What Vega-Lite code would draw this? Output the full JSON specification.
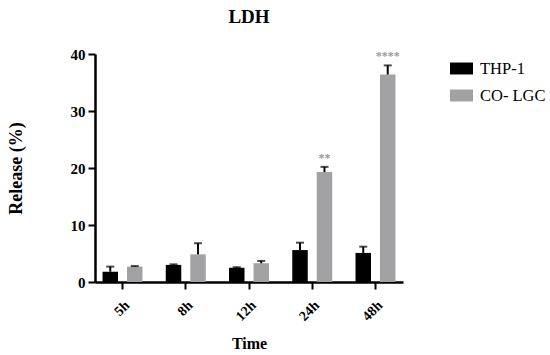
{
  "$schema": "https://vega.github.io/schema/vega-lite/v6.json",
  "autosize": {"type": "none"},
  "width": 308,
  "height": 228,
  "padding": {"left": 95, "top": 54, "right": 147, "bottom": 73},
  "background": "white",
  "title": {"text": "LDH", "font": "Liberation Serif, Times New Roman, serif", "fontSize": 19, "fontWeight": "bold", "color": "black", "offset": 20, "anchor": "middle"},
  "config": {
    "view": {"stroke": null},
    "font": "Liberation Serif, Times New Roman, serif",
    "axis": {"domainColor": "black", "domainWidth": 2.5, "tickColor": "black", "tickWidth": 2, "labelFont": "Liberation Serif, Times New Roman, serif", "labelFontWeight": "bold", "labelFontSize": 14, "labelColor": "black", "titleFont": "Liberation Serif, Times New Roman, serif", "titleFontSize": 16, "titleFontWeight": "bold", "titleColor": "black", "grid": false},
    "legend": {"labelFont": "Liberation Serif, Times New Roman, serif"}
  },
  "data": {"values": [
    {"time": "5h", "group": "THP-1", "value": 1.8, "err": 2.7, "sig": ""},
    {"time": "5h", "group": "CO- LGC", "value": 2.7, "err": 2.8, "sig": ""},
    {"time": "8h", "group": "THP-1", "value": 3.0, "err": 3.1, "sig": ""},
    {"time": "8h", "group": "CO- LGC", "value": 4.85, "err": 6.8, "sig": ""},
    {"time": "12h", "group": "THP-1", "value": 2.5, "err": 2.6, "sig": ""},
    {"time": "12h", "group": "CO- LGC", "value": 3.3, "err": 3.7, "sig": ""},
    {"time": "24h", "group": "THP-1", "value": 5.6, "err": 6.9, "sig": ""},
    {"time": "24h", "group": "CO- LGC", "value": 19.3, "err": 20.2, "sig": "**"},
    {"time": "48h", "group": "THP-1", "value": 5.1, "err": 6.2, "sig": ""},
    {"time": "48h", "group": "CO- LGC", "value": 36.4, "err": 38.0, "sig": "****"}
  ]},
  "encoding": {
    "x": {"field": "time", "type": "nominal", "sort": ["5h", "8h", "12h", "24h", "48h"], "title": "Time",
      "scale": {"paddingInner": 0.368, "paddingOuter": 0.119},
      "axis": {"labelAngle": -45, "tickSize": 7, "labelPadding": 9, "titlePadding": 12}},
    "xOffset": {"field": "group", "type": "nominal", "sort": ["THP-1", "CO- LGC"], "scale": {"paddingInner": 0.367, "paddingOuter": 0}}
  },
  "layer": [
    {
      "mark": {"type": "bar"},
      "encoding": {
        "y": {"field": "value", "type": "quantitative", "title": "Release (%)", "scale": {"domain": [0, 40], "nice": false},
          "axis": {"values": [0, 10, 20, 30, 40], "tickSize": 7, "labelPadding": 3, "labelFontSize": 15, "titleFontSize": 18, "titlePadding": 45}},
        "color": {"field": "group", "type": "nominal", "sort": ["THP-1", "CO- LGC"],
          "scale": {"domain": ["THP-1", "CO- LGC"], "range": ["#000000", "#a2a2a4"]},
          "legend": {"orient": "none", "legendX": 355, "legendY": 3, "title": null, "symbolType": "M-1,-0.52H1V0.52H-1Z", "symbolSize": 529, "symbolStrokeWidth": 0, "labelFont": "Liberation Serif, Times New Roman, serif", "labelFontSize": 16.5, "labelColor": "black", "rowPadding": 7, "labelOffset": 7}}
      }
    },
    {
      "mark": {"type": "rule", "color": "black", "strokeWidth": 2},
      "encoding": {"y": {"field": "value", "type": "quantitative"}, "y2": {"field": "err"}}
    },
    {
      "mark": {"type": "tick", "color": "black", "thickness": 2, "size": 8},
      "encoding": {"y": {"field": "err", "type": "quantitative"}}
    },
    {
      "mark": {"type": "text", "color": "#999999", "fontSize": 12, "fontWeight": "bold", "baseline": "bottom", "dy": -2},
      "encoding": {"y": {"field": "err", "type": "quantitative"}, "text": {"field": "sig"}}
    }
  ]
}
